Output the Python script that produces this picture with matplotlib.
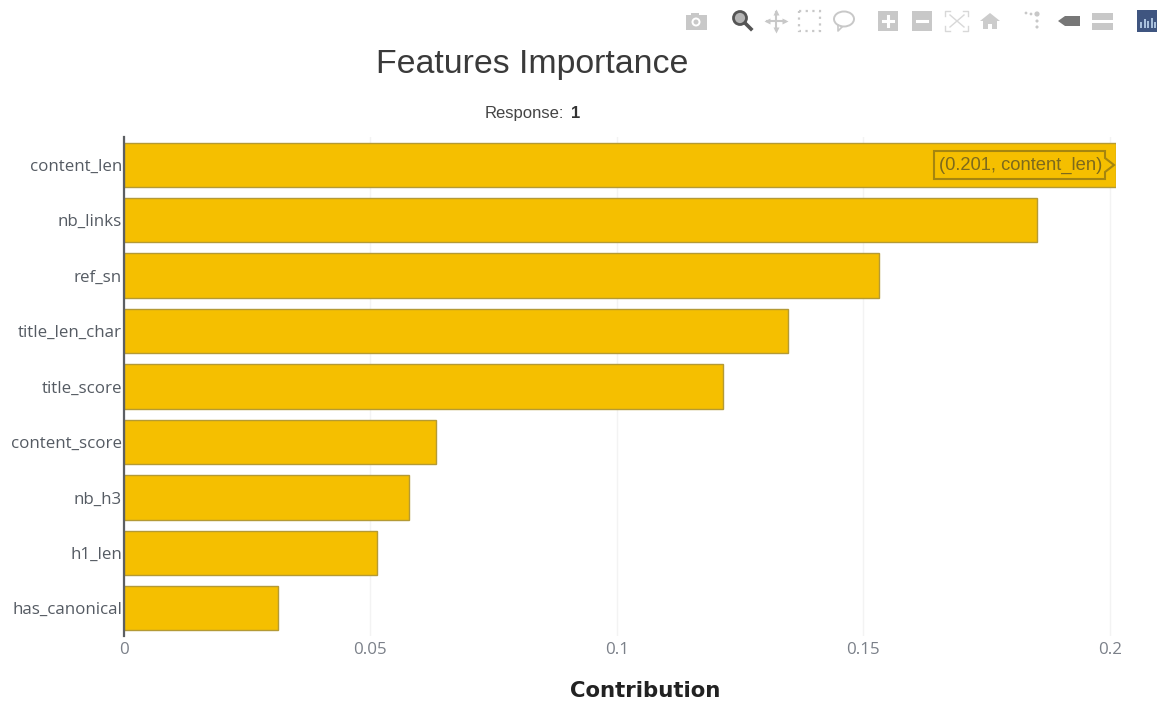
import matplotlib
matplotlib.use("Agg")
import matplotlib.pyplot as plt
from matplotlib.patches import Polygon, Rectangle, Circle, Ellipse

features = ["content_len", "nb_links", "ref_sn", "title_len_char", "title_score",
            "content_score", "nb_h3", "h1_len", "has_canonical"]
contribution = [0.2012, 0.1853, 0.1533, 0.1348, 0.1216, 0.0633, 0.0579, 0.0514, 0.0313]
x_ticks = [0, 0.05, 0.1, 0.15, 0.2]
x_tick_labels = ["0", "0.05", "0.1", "0.15", "0.2"]
title = "Features Importance"
subtitle_plain = "Response:"
subtitle_bold = "1"
x_title = "Contribution"
hover_text = "(0.201, content_len)"

W, H = 1157, 701
fig = plt.figure(figsize=(W / 100, H / 100), dpi=100, facecolor="white")


def box(l, t, r, b):
    return [l / W, 1 - b / H, (r - l) / W, (b - t) / H]


ax = fig.add_axes(box(124, 137, 1115.5, 636))
ypos = list(range(len(features)))
ax.barh(ypos, contribution, height=0.8, color="#f5bf00", edgecolor="#b49a35", linewidth=1.0, zorder=3)
ax.set_ylim(len(features) - 0.5, -0.5)
ax.set_xlim(0, 0.2012)
ax.set_yticks(ypos, features)
ax.set_xticks(x_ticks, x_tick_labels)
ax.grid(axis="x", color="#f3f3f3", linewidth=1, zorder=0)
for s in ["top", "right", "bottom"]:
    ax.spines[s].set_visible(False)
ax.spines["left"].set_color("#5c5f63")
ax.spines["left"].set_linewidth(1.6)
ax.spines["left"].set_zorder(5)
ax.tick_params(axis="y", length=0, pad=1.5, labelsize=12.2, labelcolor="#555b63")
ax.tick_params(axis="x", length=0, pad=4, labelsize=12.2, labelcolor="#7b8089")
for lab in ax.get_yticklabels() + ax.get_xticklabels():
    lab.set_fontfamily("Open Sans")

# Overlay in pixel coordinates for page furniture
ov = fig.add_axes([0, 0, 1, 1], facecolor="none", zorder=10)
ov.set_xlim(0, W)
ov.set_ylim(H, 0)
ov.axis("off")

ov.text(532.5, 65, title, family="Liberation Sans", fontsize=24.4, color="#3a3a3a", ha="center", va="center")
ov.text(485, 113.5, subtitle_plain, family="Liberation Sans", fontsize=12, color="#444444", ha="left", va="center")
ov.text(571, 113.5, subtitle_bold, family="Liberation Sans", fontsize=12, fontweight="bold", color="#333333", ha="left", va="center")
ov.text(645.5, 697, x_title, family="DejaVu Sans", fontsize=15.3, fontweight="bold", color="#222222", ha="center", va="baseline")

# Hover label
edge = "#a5850f"
ov.add_patch(Polygon([(934, 151), (1105, 151), (1105, 158), (1114, 165), (1105, 172), (1105, 179), (934, 179)],
                     closed=True, facecolor="#f5bf00", edgecolor=edge, linewidth=1.5))
ov.text(939, 165, hover_text, family="Liberation Sans", fontsize=13.25, color="#7d6a1c", ha="left", va="center")

# Toolbar icons
g = "#c8c8c8"
ov.add_patch(Rectangle((686, 15), 21, 15, facecolor=g, edgecolor="none"))
ov.add_patch(Rectangle((691, 13), 8, 3, facecolor=g, edgecolor="none"))
ov.add_patch(Circle((696, 22), 4.5, facecolor="white", edgecolor="none"))
ov.add_patch(Circle((696, 22), 2.5, facecolor=g, edgecolor="none"))
ov.add_patch(Circle((740, 18), 6.5, facecolor="#b5b5b5", edgecolor="#555555", linewidth=2))
ov.plot([745, 751], [23, 29], color="#555555", linewidth=2.6)
ov.plot([767, 785], [21, 21], color=g, linewidth=1.5)
ov.plot([776, 776], [12, 30], color=g, linewidth=1.5)
for mx, my, mk in [(767, 21, "<"), (785, 21, ">"), (776, 12, "^"), (776, 30, "v")]:
    ov.plot([mx], [my], marker=mk, markersize=4, color=g, markeredgecolor="none")
ov.add_patch(Rectangle((799, 11), 21, 20, facecolor="none", edgecolor=g, linewidth=1.6, linestyle=(0, (1, 2))))
ov.add_patch(Ellipse((844, 19), 20, 15, facecolor="none", edgecolor=g, linewidth=1.4))
ov.plot([838, 838, 842], [25, 31, 27], color=g, linewidth=1.2)
for x0, vertical in [(878, True), (912, False)]:
    ov.add_patch(Rectangle((x0, 11), 20, 20, facecolor=g, edgecolor="none"))
    ov.plot([x0 + 5, x0 + 15], [21, 21], color="white", linewidth=2.2)
    if vertical:
        ov.plot([x0 + 10, x0 + 10], [16, 26], color="white", linewidth=2.2)
ov.plot([950, 964], [15, 27], color="#d8d8d8", linewidth=1)
ov.plot([950, 964], [27, 15], color="#d8d8d8", linewidth=1)
for cx, cy, dx, dy in [(945, 11, 1, 1), (968, 11, -1, 1), (945, 31, 1, -1), (968, 31, -1, -1)]:
    ov.plot([cx, cx, cx + 5 * dx], [cy + 5 * dy, cy, cy], color="#d8d8d8", linewidth=1)
ov.add_patch(Polygon([(980, 21), (990, 13), (1000, 21), (997, 21), (997, 29), (992, 29), (992, 24), (988, 24), (988, 29), (983, 29), (983, 21)],
                     closed=True, facecolor="#cccccc", edgecolor="none"))
ov.scatter([1026, 1031, 1037, 1037, 1037], [13, 14, 14, 21, 27], s=[4, 4, 14, 5, 5], color=g, edgecolor="none")
ov.add_patch(Polygon([(1058, 21), (1065, 16), (1080, 16), (1080, 26), (1065, 26)],
                     closed=True, facecolor="#777777", edgecolor="none"))
ov.add_patch(Rectangle((1092, 13), 21, 7, facecolor=g, edgecolor="none"))
ov.add_patch(Rectangle((1092, 23), 21, 7, facecolor=g, edgecolor="none"))
ov.add_patch(Rectangle((1137, 10), 20, 22, facecolor="#3f5580", edgecolor="none"))
for bx, bh in [(1140, 6), (1143.5, 9), (1147, 7), (1150.5, 10), (1153.5, 6)]:
    ov.add_patch(Rectangle((bx, 28 - bh), 2, bh, facecolor="#a9c0dc", edgecolor="none"))

fig.savefig("out.png", dpi=100, facecolor="white")
